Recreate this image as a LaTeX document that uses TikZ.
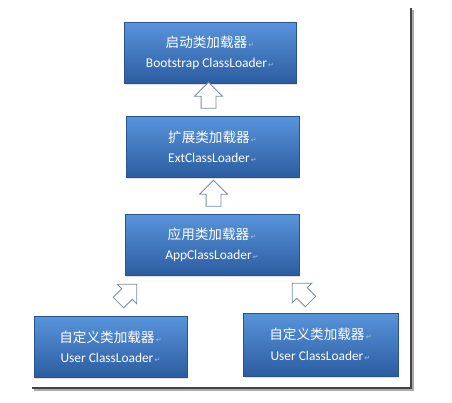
\documentclass[tikz,border=0pt]{standalone}
\usepackage{fontspec}
\setmainfont{Carlito}
\newfontfamily\cjk{Noto Sans CJK SC}
\newfontfamily\retfont{DejaVu Sans}
\usepackage{tikz}
\usetikzlibrary{shapes.arrows,shadows}
\usepackage{xcolor}

\definecolor{boxtop}{HTML}{5894DB}
\definecolor{boxmid}{HTML}{3C78C3}
\definecolor{boxbot}{HTML}{2C5CA0}
\definecolor{boxedge}{HTML}{28548C}
\definecolor{arrowedge}{HTML}{7C8CA3}
\definecolor{retmark}{HTML}{A9C0DC}
\definecolor{framecol}{HTML}{444444}

\newcommand{\ret}{{\retfont\fontsize{7}{7}\selectfont\color{retmark}\,↵}}
\newcommand{\zh}[1]{{\cjk\fontsize{13.6}{13.6}\selectfont #1}}

\begin{document}
\begin{tikzpicture}
	[   x=1pt,y=-1pt,
	    loader/.style={draw=boxedge,top color=boxtop,middle color=boxmid,bottom color=boxbot,minimum width=#1,minimum height=61pt,align=center,text=white,inner sep=0pt,drop shadow={opacity=0.25,shadow xshift=1pt,shadow yshift=-1.5pt},font=\fontsize{13.4}{20.5}\selectfont},
	]
	\tikzset{up arrow/.style={single arrow,draw=arrowedge,fill=white,rotate=#1,minimum height=26pt,single arrow head extend=6.5pt,inner xsep=0pt,inner ysep=7pt,line width=0.8pt}}
	\useasboundingbox (0,0) rectangle (452,403);
	
	% frame
	\draw[framecol!45,line width=1.2pt] (413,10) -- (413,390) -- (34,390);
	\draw[framecol,line width=1.8pt] (411,8) -- (411,388) -- (32,388);
	
	\node[loader=172pt] (boot) at (210,53) {\zh{启动类加载器}\ret\\ Bootstrap ClassLoader\ret};
	\node[loader=173pt] (ext) at (212.5,147) {\zh{扩展类加载器}\ret\\ ExtClassLoader\ret};
	\node[loader=174pt] (app) at (212,245) {\zh{应用类加载器}\ret\\ AppClassLoader\ret};
	\node[loader=153pt] (userL) at (110.5,347) {\zh{自定义类加载器}\ret\\ User ClassLoader\ret};
	\node[loader=155pt,minimum height=63pt] (userR) at (320.5,344.5) {\zh{自定义类加载器}\ret\\ User ClassLoader\ret};
	
	\foreach \n/\x/\y/\r in {a1/208.5/99/90, a2/213.5/197/90, a3/125/296/45, a4/304/295/135}
	{
		\node[up arrow=\r] (\n) at (\x,\y) {};
	}
\end{tikzpicture}
\end{document}
